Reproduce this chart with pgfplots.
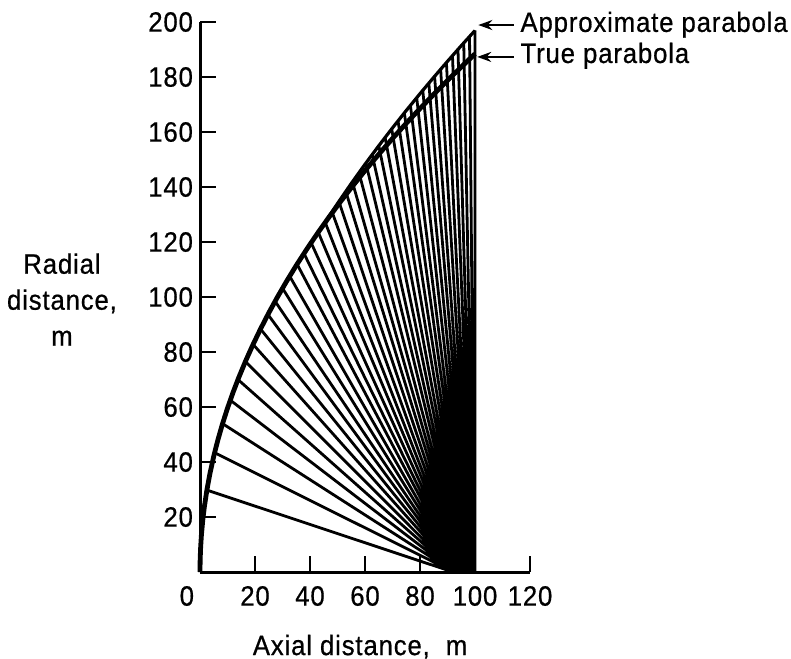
\documentclass[border=0pt]{standalone}
\usepackage{fontspec}
\setmainfont{Liberation Sans}[FakeStretch=0.92, LetterSpace=3, FakeBold=0.6]
\usepackage{pgfplots}
\pgfplotsset{compat=1.18}
\usepackage{pgfplotstable}
\usetikzlibrary{arrows.meta}

% rays: start on the approximate parabola, end on the axis (nan rows separate segments)
\pgfplotstableread{
x y
2.5 29.79
92.0 0
nan nan
5.3 43.38
92.2 0
nan nan
8.2 53.95
92.4 0
nan nan
11.0 62.49
92.6 0
nan nan
13.8 69.99
92.8 0
nan nan
16.5 76.53
93.0 0
nan nan
19.3 82.77
93.2 0
nan nan
22.0 88.37
93.4 0
nan nan
24.7 93.64
93.6 0
nan nan
27.3 98.45
93.8 0
nan nan
30.0 103.20
94.0 0
nan nan
32.6 107.58
94.2 0
nan nan
35.3 111.94
94.4 0
nan nan
37.8 115.84
94.6 0
nan nan
40.4 119.76
94.8 0
nan nan
43.0 123.55
95.0 0
nan nan
45.5 127.17
95.2 0
nan nan
48.0 131.00
95.4 0
nan nan
50.5 134.74
95.6 0
nan nan
53.0 138.41
95.8 0
nan nan
55.4 141.85
96.0 0
nan nan
57.8 145.22
96.2 0
nan nan
60.3 148.67
96.4 0
nan nan
62.6 151.79
96.6 0
nan nan
65.0 154.99
96.8 0
nan nan
67.3 158.02
97.0 0
nan nan
69.7 161.12
97.2 0
nan nan
72.0 164.04
97.4 0
nan nan
74.3 166.94
97.6 0
nan nan
76.5 169.67
97.8 0
nan nan
78.8 172.47
98.0 0
nan nan
81.0 175.13
98.2 0
nan nan
83.2 177.76
98.4 0
nan nan
85.3 180.25
98.6 0
nan nan
87.5 182.82
98.8 0
nan nan
89.6 185.24
99.0 0
nan nan
91.8 187.75
99.2 0
nan nan
93.8 190.02
99.4 0
nan nan
95.9 192.38
99.6 0
nan nan
98.0 194.71
99.8 0
nan nan
100.0 196.91
100.0 0
}\rays

\pgfplotstableread{
x y
0 0
0.05 4.21
0.2 8.43
0.5 13.32
1 18.84
1.6 23.83
2.5 29.79
3.6 35.75
5 42.13
6.5 48.04
8.2 53.95
10 59.58
12 65.27
14 70.50
16.5 76.53
19 82.13
22 88.37
25 94.21
28 99.70
31.5 105.75
35 111.47
39 117.66
43 123.55
47 129.17
51 134.55
55 139.73
60 145.95
65 151.90
70 157.64
75 163.17
80 168.52
85 173.71
90 178.75
95 183.65
100 188.41
}\truepar

\pgfplotstableread{
x y
43 123.55
45 126.39
50 134.00
55 141.28
60 148.27
65 154.99
70 161.50
75 167.81
80 173.93
85 179.89
90 185.70
95 191.38
100 196.91
}\approxpar

\begin{document}
\begin{tikzpicture}
\begin{axis}[
  width=165pt, height=275pt, scale only axis,
  xmin=0, xmax=120, ymin=0, ymax=200,
  axis x line*=bottom, axis y line*=left,
  axis line style={line width=1.5pt, black},
  xtick={0,20,...,120},
  xticklabels={\makebox[0pt][r]{0\hspace{3pt}},20,40,60,80,100,120},
  ytick={20,40,...,200},
  tick align=inside,
  major tick length=8pt,
  every tick/.style={black, line width=1.2pt},
  ticklabel style={font=\fontsize{14}{16}\selectfont},
  xticklabel style={yshift=-3.5pt},
  /pgf/number format/assume math mode=true,
  clip=false,
]
\addplot[black, line width=1.4pt, unbounded coords=jump] table[x=x,y=y] {\rays};
\addplot[black, line width=1.6pt] table[x=x,y=y] {\approxpar};
\addplot[black, line width=2.4pt] table[x=x,y=y] {\truepar};

\draw[-{Stealth[length=7pt,width=5pt]}, line width=1.1pt] (axis cs:114,198.9) -- (axis cs:101.2,198.9);
\draw[-{Stealth[length=7pt,width=5pt]}, line width=1.1pt] (axis cs:114,187.3) -- (axis cs:100.8,187.3);
\node[anchor=base west, inner sep=0, font=\fontsize{14}{16}\selectfont] at (axis cs:116.4,196.4) {Approximate parabola};
\node[anchor=base west, inner sep=0, font=\fontsize{14}{16}\selectfont] at (axis cs:116.4,185.1) {True parabola};

\node[anchor=north, align=center, inner sep=0, font=\fontsize{14}{18}\selectfont] at (axis cs:-50.2,116) {Radial\\distance,\\m};
\node[anchor=base, inner sep=0, font=\fontsize{14}{16}\selectfont] at (axis cs:58.2,-30.2) {Axial distance,\ \ m};

\coordinate (bbSW) at (axis cs:-72.73,-31.6);
\coordinate (bbNE) at (axis cs:214.9,208.0);
\end{axis}
\pgfresetboundingbox
\path (bbSW) rectangle (bbNE);
\end{tikzpicture}
\end{document}
